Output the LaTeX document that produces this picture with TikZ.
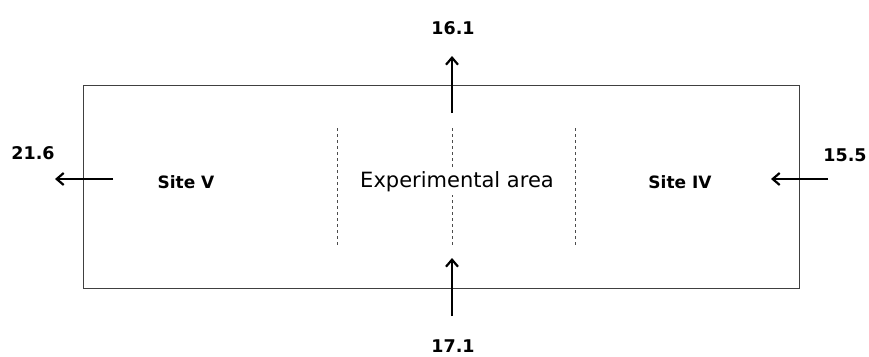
\documentclass[tikz,border=0pt]{standalone}
\usepackage{fontspec}
\setmainfont{DejaVu Sans}
\usetikzlibrary{arrows.meta}
\begin{document}
\begin{tikzpicture}[x=1pt,y=-1pt,
  flow/.style={line width=2.2pt,-{Straight Barb[length=7pt,width=12pt,line width=2.2pt]}},
  divider/.style={line width=0.6pt,dash pattern=on 3pt off 3pt,draw=black!70},
  num/.style={font=\bfseries\fontsize{17.5}{20}\selectfont,inner sep=0pt},
  site/.style={font=\bfseries\fontsize{17}{19}\selectfont,inner sep=0pt},
  area/.style={font=\fontsize{21}{24}\selectfont,fill=white,inner sep=3pt}]
\useasboundingbox (0,0) rectangle (869,356);
\node[draw=black!75,line width=0.8pt,minimum width=716pt,minimum height=203pt,inner sep=0pt,anchor=north west] (box) at (83,85) {};
% dividers
\coordinate (d1t) at (337,128); \coordinate (d1b) at (337,245);
\coordinate (d2t) at (452,128); \coordinate (d2b) at (452,245);
\coordinate (d3t) at (575,128); \coordinate (d3b) at (575,245);
\draw[divider] (d1t) -- (d1b);
\draw[divider] (d2t) -- (d2b);
\draw[divider] (d3t) -- (d3b);
\node[area] (exp) at (457,182) {Experimental area};
\node[site] (s5) at (186,182) {Site V};
\node[site] (s4) at (680,182) {Site IV};
% arrows
\coordinate (ta) at (452,113); \coordinate (tb) at (452,56);
\coordinate (ba) at (452,316); \coordinate (bb) at (452,258);
\coordinate (la) at (113,179); \coordinate (lb) at (55,179);
\coordinate (ra) at (828,179); \coordinate (rb) at (771,179);
\draw[flow] (ta) -- (tb);
\draw[flow] (ba) -- (bb);
\draw[flow] (la) -- (lb);
\draw[flow] (ra) -- (rb);
\node[num] (n161) at (453,28) {16.1};
\node[num] (n171) at (453,346) {17.1};
\node[num] (n216) at (33,153) {21.6};
\node[num] (n155) at (845,155) {15.5};
\end{tikzpicture}
\end{document}
